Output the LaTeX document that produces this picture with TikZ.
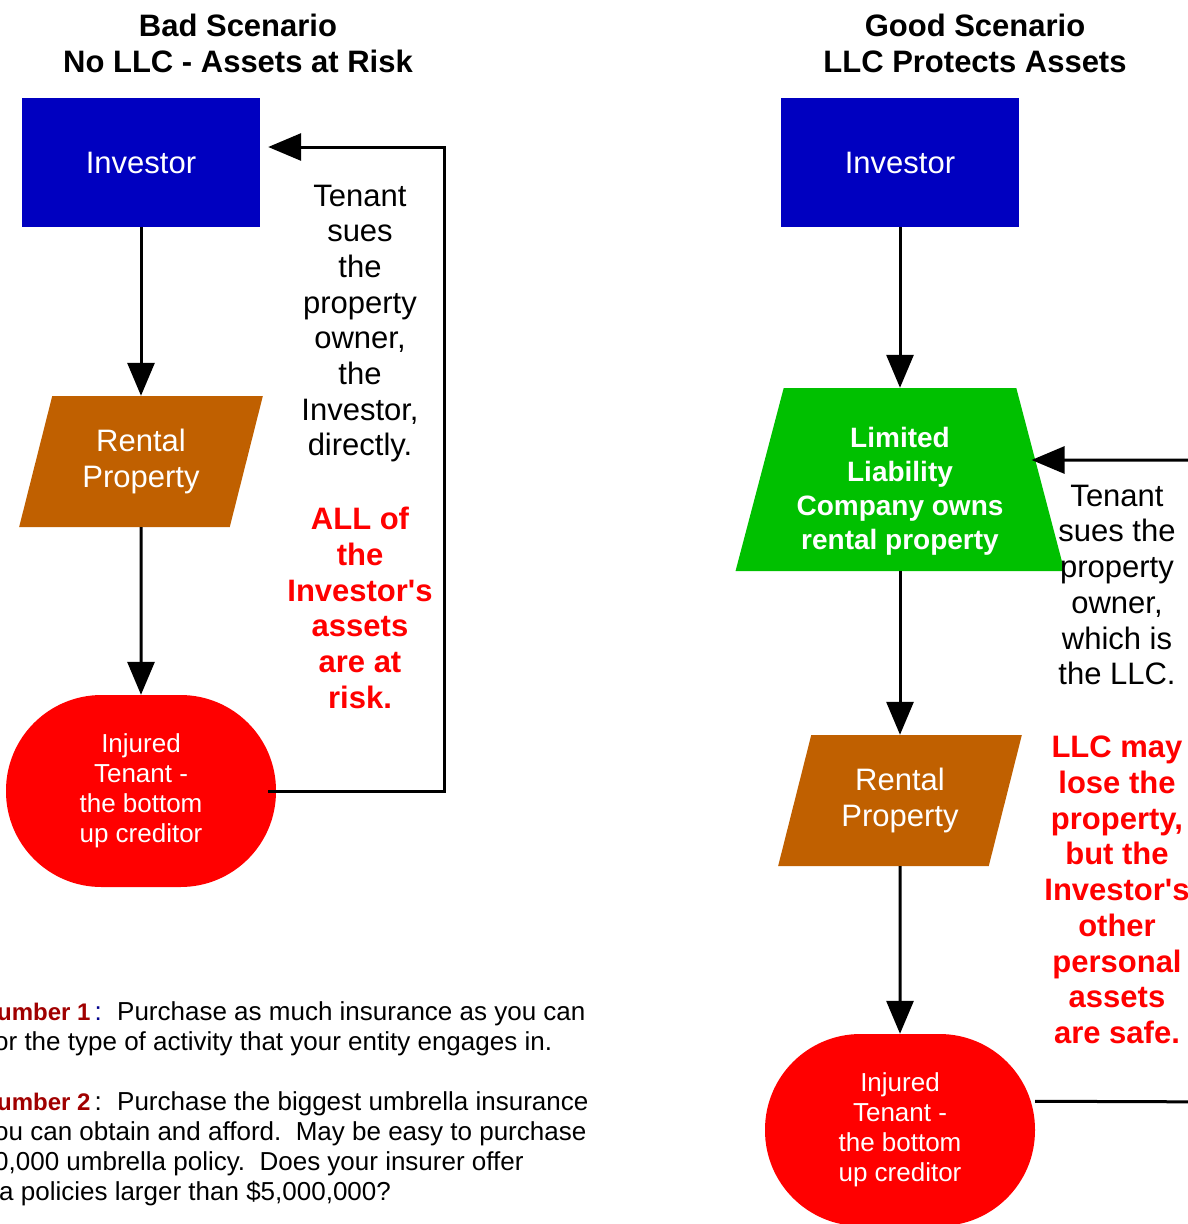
\documentclass[tikz,border=0pt]{standalone}
\usepackage{fontspec}
\setmainfont{Liberation Sans}[Ligatures=TeXOff]
\usetikzlibrary{shapes.geometric,arrows.meta}
\definecolor{invblue}{RGB}{0,0,192}
\definecolor{llcgreen}{RGB}{0,192,0}
\definecolor{rentorange}{RGB}{192,96,0}
\definecolor{numred}{RGB}{160,0,0}
\definecolor{colonblue}{RGB}{0,0,140}
\begin{document}
\begin{tikzpicture}[x=1pt,y=-1pt,
  title/.style={align=center,inner sep=0pt,font=\bfseries\fontsize{31}{36}\selectfont},
  box/.style={fill=invblue,text=white,minimum width=238pt,minimum height=129pt,inner sep=0pt,font=\fontsize{31}{36}\selectfont},
  rent/.style={trapezium,trapezium left angle=71.4,trapezium right angle=108.6,trapezium stretches=true,fill=rentorange,text=white,minimum width=244pt,minimum height=131pt,inner sep=0pt,align=center,font=\fontsize{31}{36}\selectfont},
  llc/.style={trapezium,trapezium left angle=78.3,trapezium right angle=78.3,trapezium stretches=true,fill=llcgreen,minimum width=329pt,minimum height=183pt,inner sep=2pt},
  llctext/.style={text=white,align=center,inner sep=0pt,font=\bfseries\fontsize{28}{34}\selectfont},
  inj/.style={rectangle,rounded corners=95.5pt,fill=red,text=white,minimum width=270pt,minimum height=192pt,inner sep=0pt,align=center,font=\fontsize{26}{30}\selectfont},
  note/.style={align=center,inner sep=0pt,font=\fontsize{31}{35.7}\selectfont},
  warn/.style={note,text=red,font=\bfseries\fontsize{31}{35.7}\selectfont},
  tips/.style={align=left,inner sep=0pt,anchor=west,font=\fontsize{26}{30}\selectfont},
  num/.style={},
  flow/.style={line width=3pt,-{Triangle[length=33pt,width=27pt]}}]
\useasboundingbox (0,0) rectangle (1188,1224);
\clip (0,0) rectangle (1188,1224);

\node[title] (ltitle) at (238,43) {Bad Scenario\\No LLC - Assets at Risk};
\node[title] (rtitle) at (975,43) {Good Scenario\\LLC Protects Assets};

\node[box] (linv) at (141,162.5) {Investor};
\node[rent] (lrent) at (141,461.5) {Rental\\Property};
\node[inj] (linj) at (141,791) {Injured\\Tenant -\\the bottom\\up creditor};
\node[note] (lsue) at (360,323.5) {Tenant\\sues\\the\\property\\owner,\\the\\Investor,\\directly.};
\node[warn] (lrisk) at (360,608) {ALL of\\the\\Investor's\\assets\\are at\\risk.};

\node[box] (rinv) at (900,162.5) {Investor};
\node[llc] (rllc) at (900,479.5) {};
\node[llctext] (rllctext) at (900,491) {Limited\\Liability\\Company owns\\rental property};
\node[rent] (rrent) at (900,800.5) {Rental\\Property};
\node[inj] (rinj) at (900,1130) {Injured\\Tenant -\\the bottom\\up creditor};
\node[note] (rsue) at (1117,585) {Tenant\\sues the\\property\\owner,\\which is\\the LLC.};
\node[warn] (rsafe) at (1117,890) {LLC may\\lose the\\property,\\but the\\Investor's\\other\\personal\\assets\\are safe.};

\node[tips] (ltips) at (-6,1103.5) {\makebox[123pt][l]{\hspace*{3pt}{\color{numred}\bfseries\fontsize{24}{30}\selectfont umber 1}\hspace{4pt}{\color{colonblue}:}}Purchase as much insurance as you can\\or the type of activity that your entity engages in.\\[30pt]\makebox[123pt][l]{\hspace*{3pt}{\color{numred}\bfseries\fontsize{24}{30}\selectfont umber 2}\hspace{4pt}:}Purchase the biggest umbrella insurance\\ou can obtain and afford.\ \ May be easy to purchase\\0,000 umbrella policy.\ \ Does your insurer offer\\\hspace*{5pt}a policies larger than \$5,000,000?};

\coordinate (lbot) at (444,791);
\coordinate (ltop) at (444,147);
\coordinate (rbot) at (1240,1102);
\coordinate (rtop) at (1240,460);

\draw [flow] (linv) edge (lrent);
\draw [flow] (lrent) edge (linj);
\draw [flow] ([xshift=-8pt]linj.east) -- (lbot) -- (ltop) -- ([xshift=8pt]linv.east |- ltop);

\draw [flow] (rinv) edge (rllc);
\draw [flow] (rllc) edge (rrent);
\draw [flow] (rrent) edge (rinj);
\draw [flow] (rinj.12) -- (rbot) -- (rtop) -- ([xshift=-9pt]rllc.east |- rtop);
\end{tikzpicture}
\end{document}
